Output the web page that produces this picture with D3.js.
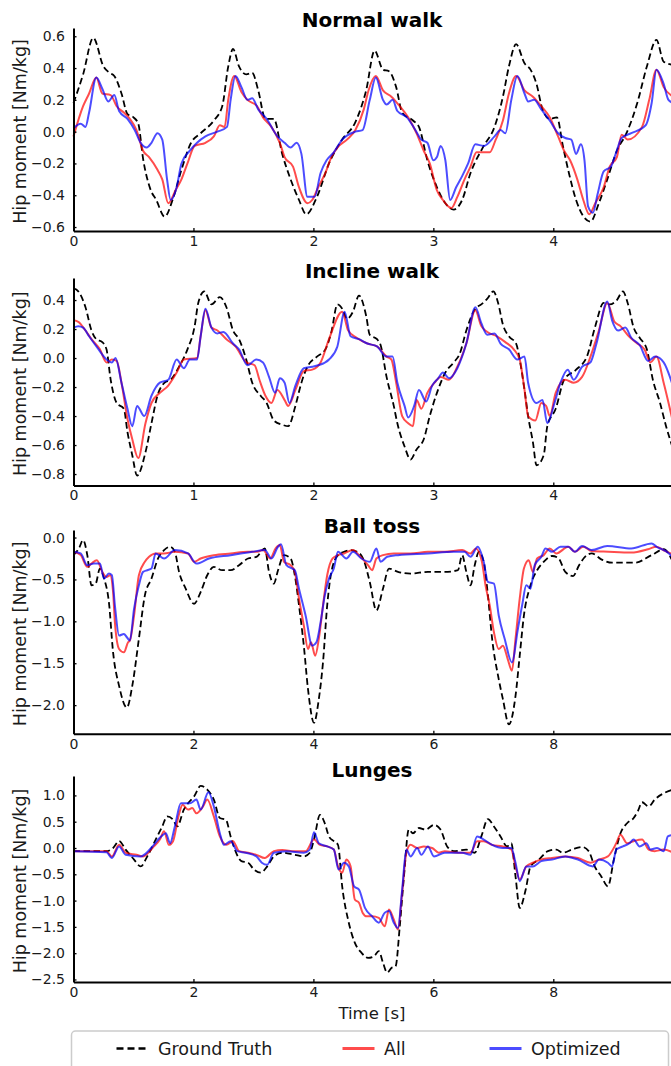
<!DOCTYPE html>
<html>
<head>
<meta charset="utf-8">
<script src="https://cdn.jsdelivr.net/npm/d3@7"></script>
<style>
  body { margin: 0; background: #fff; }
  svg { display: block; }
</style>
</head>
<body>
<div id="chart"></div>
<script>
// Hip moment traces, [time (s), moment (Nm/kg)]

const walkXTicks = [0, 1, 2, 3, 4];
const longXTicks = [0, 2, 4, 6, 8];
const normalYTicks = [-0.6, -0.4, -0.2, 0.0, 0.2, 0.4, 0.6];
const inclineYTicks = [-0.8, -0.6, -0.4, -0.2, 0.0, 0.2, 0.4];
const ballYTicks = [-2.0, -1.5, -1.0, -0.5, 0.0];
const lungeYTicks = [-2.5, -2.0, -1.5, -1.0, -0.5, 0.0, 0.5, 1.0];

const normalTruth = [[0,0.18],[0.08,0.36],[0.165,0.59],[0.25,0.41],[0.3,0.37],[0.34,0.35],[0.4,0.24],[0.45,0.11],[0.5,0.09],[0.54,0.05],[0.58,-0.17],[0.64,-0.36],[0.69,-0.43],[0.76,-0.535],[0.83,-0.42],[0.9,-0.24],[0.98,-0.07],[1.06,-0.01],[1.17,0.07],[1.24,0.16],[1.29,0.41],[1.33,0.52],[1.38,0.41],[1.44,0.36],[1.49,0.37],[1.54,0.26],[1.6,0.08],[1.67,0.08],[1.74,-0.14],[1.81,-0.3],[1.88,-0.43],[1.94,-0.52],[2.03,-0.41],[2.13,-0.2],[2.24,-0.05],[2.35,0.06],[2.44,0.26],[2.51,0.51],[2.58,0.39],[2.63,0.38],[2.69,0.28],[2.74,0.12],[2.83,0.07],[2.88,0.03],[2.95,-0.18],[3.03,-0.35],[3.1,-0.45],[3.17,-0.49],[3.24,-0.43],[3.31,-0.26],[3.42,-0.09],[3.51,0.03],[3.58,0.22],[3.63,0.41],[3.69,0.55],[3.76,0.43],[3.81,0.39],[3.86,0.3],[3.91,0.14],[3.97,0.08],[4.03,0.09],[4.08,-0.09],[4.13,-0.26],[4.19,-0.43],[4.31,-0.566],[4.38,-0.45],[4.45,-0.3],[4.53,-0.12],[4.61,-0.01],[4.7,0.18],[4.78,0.41],[4.86,0.577],[4.92,0.44],[5.0,0.42]];
const normalAll = [[0,-0.03],[0.08,0.16],[0.13,0.24],[0.19,0.34],[0.24,0.24],[0.31,0.23],[0.36,0.16],[0.42,0.12],[0.47,0.08],[0.525,0.01],[0.58,-0.12],[0.63,-0.16],[0.7,-0.24],[0.74,-0.3],[0.79,-0.45],[0.85,-0.37],[0.9,-0.3],[0.95,-0.2],[1.01,-0.09],[1.1,-0.07],[1.17,-0.03],[1.22,0.04],[1.26,0.03],[1.29,0.2],[1.34,0.35],[1.4,0.25],[1.45,0.2],[1.53,0.16],[1.58,0.09],[1.65,0.03],[1.72,-0.07],[1.76,-0.16],[1.83,-0.22],[1.88,-0.35],[1.95,-0.45],[1.99,-0.43],[2.04,-0.35],[2.1,-0.26],[2.15,-0.16],[2.2,-0.1],[2.28,-0.05],[2.35,0.01],[2.42,0.14],[2.46,0.26],[2.52,0.35],[2.58,0.26],[2.65,0.22],[2.72,0.16],[2.79,0.09],[2.86,-0.01],[2.92,-0.12],[2.97,-0.2],[3.03,-0.37],[3.08,-0.43],[3.15,-0.48],[3.2,-0.41],[3.26,-0.3],[3.31,-0.22],[3.36,-0.13],[3.47,-0.13],[3.52,-0.05],[3.58,0.07],[3.63,0.24],[3.69,0.35],[3.76,0.26],[3.83,0.22],[3.9,0.16],[3.97,0.09],[4.04,-0.03],[4.09,-0.12],[4.14,-0.18],[4.2,-0.3],[4.25,-0.43],[4.3,-0.52],[4.35,-0.45],[4.42,-0.35],[4.47,-0.22],[4.53,-0.16],[4.57,-0.02],[4.62,-0.05],[4.74,0.03],[4.8,0.2],[4.86,0.39],[4.92,0.28],[5.0,0.22]];
const normalOpt = [[0,0.02],[0.06,0.05],[0.1,0.03],[0.13,0.12],[0.19,0.34],[0.24,0.27],[0.29,0.19],[0.34,0.23],[0.38,0.13],[0.45,0.08],[0.51,0.01],[0.56,-0.07],[0.61,-0.1],[0.65,-0.07],[0.7,-0.01],[0.74,-0.05],[0.78,-0.3],[0.81,-0.43],[0.86,-0.35],[0.9,-0.2],[0.97,-0.12],[1.03,-0.07],[1.1,-0.03],[1.2,0.0],[1.28,0.03],[1.31,0.2],[1.35,0.35],[1.4,0.28],[1.45,0.2],[1.49,0.21],[1.54,0.14],[1.61,0.08],[1.7,-0.03],[1.76,-0.07],[1.81,-0.1],[1.86,-0.07],[1.9,-0.14],[1.95,-0.41],[2.01,-0.41],[2.06,-0.26],[2.11,-0.18],[2.17,-0.13],[2.24,-0.05],[2.35,0.0],[2.41,0.01],[2.47,0.2],[2.52,0.34],[2.58,0.2],[2.61,0.17],[2.66,0.2],[2.7,0.13],[2.78,0.09],[2.85,0.01],[2.9,-0.05],[2.95,-0.07],[3.0,-0.18],[3.03,-0.16],[3.06,-0.09],[3.1,-0.18],[3.14,-0.43],[3.19,-0.35],[3.24,-0.28],[3.29,-0.2],[3.35,-0.08],[3.42,-0.09],[3.51,-0.03],[3.56,0.01],[3.6,-0.01],[3.65,0.2],[3.7,0.35],[3.76,0.24],[3.79,0.19],[3.84,0.2],[3.9,0.14],[3.97,0.07],[4.04,-0.01],[4.1,-0.04],[4.15,-0.05],[4.19,-0.14],[4.23,-0.08],[4.26,-0.18],[4.29,-0.47],[4.33,-0.51],[4.37,-0.39],[4.42,-0.25],[4.48,-0.22],[4.52,-0.14],[4.57,-0.04],[4.65,-0.01],[4.77,0.04],[4.82,0.18],[4.86,0.39],[4.92,0.3],[4.96,0.2],[5.0,0.18]];

const inclineTruth = [[0,0.48],[0.04,0.46],[0.1,0.35],[0.15,0.19],[0.19,0.13],[0.24,0.11],[0.275,0.06],[0.31,-0.15],[0.36,-0.31],[0.42,-0.35],[0.45,-0.51],[0.49,-0.67],[0.53,-0.81],[0.6,-0.65],[0.65,-0.45],[0.7,-0.26],[0.76,-0.17],[0.81,-0.15],[0.88,-0.06],[0.95,0.06],[1.01,0.22],[1.04,0.38],[1.09,0.46],[1.15,0.37],[1.22,0.42],[1.275,0.35],[1.33,0.19],[1.38,0.13],[1.44,-0.01],[1.49,-0.17],[1.56,-0.26],[1.61,-0.31],[1.67,-0.43],[1.74,-0.46],[1.79,-0.47],[1.85,-0.33],[1.9,-0.17],[1.95,-0.06],[2.03,0.01],[2.1,0.06],[2.15,0.18],[2.2,0.37],[2.24,0.34],[2.28,0.27],[2.33,0.32],[2.38,0.43],[2.44,0.29],[2.47,0.16],[2.53,0.13],[2.56,0.09],[2.61,-0.13],[2.67,-0.33],[2.7,-0.45],[2.76,-0.61],[2.81,-0.7],[2.86,-0.63],[2.92,-0.56],[2.97,-0.4],[3.03,-0.24],[3.1,-0.1],[3.17,-0.03],[3.22,0.03],[3.275,0.19],[3.35,0.34],[3.4,0.37],[3.45,0.41],[3.5,0.46],[3.54,0.38],[3.58,0.23],[3.63,0.15],[3.69,0.1],[3.72,-0.01],[3.76,-0.22],[3.79,-0.4],[3.83,-0.58],[3.86,-0.74],[3.92,-0.67],[3.95,-0.47],[4.02,-0.35],[4.09,-0.15],[4.19,-0.08],[4.28,0.01],[4.35,0.22],[4.42,0.38],[4.47,0.37],[4.53,0.4],[4.58,0.46],[4.62,0.38],[4.67,0.21],[4.72,0.14],[4.78,0.06],[4.83,-0.15],[4.89,-0.31],[4.94,-0.47],[5.0,-0.63]];
const inclineAll = [[0,0.26],[0.04,0.25],[0.1,0.19],[0.15,0.13],[0.22,0.06],[0.275,-0.03],[0.32,-0.01],[0.36,-0.02],[0.4,-0.17],[0.45,-0.42],[0.49,-0.56],[0.54,-0.69],[0.6,-0.45],[0.65,-0.31],[0.72,-0.24],[0.79,-0.19],[0.86,-0.1],[0.92,-0.01],[1.03,0.0],[1.06,0.15],[1.1,0.33],[1.15,0.21],[1.2,0.19],[1.275,0.13],[1.35,0.08],[1.44,-0.03],[1.51,-0.05],[1.55,-0.15],[1.6,-0.26],[1.65,-0.31],[1.7,-0.22],[1.76,-0.29],[1.79,-0.33],[1.85,-0.22],[1.92,-0.09],[1.99,-0.08],[2.06,-0.03],[2.13,0.13],[2.24,0.32],[2.29,0.19],[2.36,0.14],[2.45,0.1],[2.53,0.08],[2.61,0.01],[2.65,-0.01],[2.69,-0.17],[2.74,-0.4],[2.79,-0.45],[2.83,-0.47],[2.86,-0.29],[2.9,-0.35],[2.95,-0.24],[3.01,-0.17],[3.06,-0.13],[3.13,-0.15],[3.2,-0.06],[3.275,0.1],[3.35,0.33],[3.4,0.22],[3.45,0.18],[3.53,0.15],[3.6,0.11],[3.67,0.06],[3.72,-0.01],[3.76,-0.22],[3.79,-0.4],[3.85,-0.43],[3.9,-0.31],[3.94,-0.33],[3.97,-0.4],[4.02,-0.24],[4.1,-0.15],[4.17,-0.17],[4.24,-0.13],[4.31,0.01],[4.38,0.19],[4.45,0.38],[4.51,0.25],[4.56,0.22],[4.63,0.15],[4.7,0.1],[4.76,0.06],[4.81,-0.03],[4.86,0.01],[4.92,-0.17],[5.0,-0.45]];
const inclineOpt = [[0,0.21],[0.04,0.22],[0.08,0.21],[0.13,0.15],[0.2,0.07],[0.275,-0.01],[0.32,-0.03],[0.35,0.0],[0.4,-0.17],[0.45,-0.35],[0.49,-0.47],[0.53,-0.33],[0.59,-0.4],[0.65,-0.26],[0.72,-0.17],[0.79,-0.15],[0.86,-0.01],[0.92,-0.07],[0.97,-0.01],[1.03,-0.01],[1.06,0.15],[1.1,0.34],[1.15,0.21],[1.2,0.17],[1.25,0.18],[1.33,0.1],[1.38,0.06],[1.45,-0.05],[1.525,-0.01],[1.58,-0.03],[1.63,-0.13],[1.68,-0.24],[1.72,-0.14],[1.76,-0.17],[1.8,-0.31],[1.85,-0.19],[1.92,-0.07],[1.99,-0.06],[2.04,-0.05],[2.13,-0.01],[2.2,0.08],[2.26,0.32],[2.31,0.15],[2.38,0.13],[2.45,0.1],[2.53,0.08],[2.61,0.01],[2.66,0.01],[2.7,-0.17],[2.76,-0.33],[2.79,-0.41],[2.84,-0.33],[2.88,-0.22],[2.94,-0.3],[2.99,-0.19],[3.04,-0.14],[3.08,-0.1],[3.13,-0.14],[3.2,-0.07],[3.275,0.1],[3.35,0.35],[3.4,0.24],[3.45,0.16],[3.51,0.17],[3.56,0.1],[3.63,0.06],[3.7,-0.01],[3.76,0.01],[3.79,-0.17],[3.86,-0.31],[3.91,-0.29],[3.95,-0.45],[4.01,-0.31],[4.06,-0.17],[4.12,-0.08],[4.17,-0.15],[4.24,-0.06],[4.31,-0.03],[4.36,0.1],[4.45,0.39],[4.49,0.26],[4.54,0.19],[4.6,0.21],[4.65,0.14],[4.72,0.09],[4.79,-0.02],[4.85,0.01],[4.92,-0.03],[5.0,-0.2]];

const ballTruth = [[0,-0.21],[0.09,-0.13],[0.16,-0.03],[0.23,-0.21],[0.3,-0.57],[0.37,-0.55],[0.44,-0.37],[0.51,-0.49],[0.59,-0.77],[0.66,-1.37],[0.76,-1.77],[0.89,-2.03],[0.98,-1.77],[1.09,-1.21],[1.19,-0.69],[1.3,-0.49],[1.41,-0.25],[1.51,-0.15],[1.61,-0.11],[1.69,-0.17],[1.76,-0.41],[1.87,-0.61],[2.01,-0.79],[2.12,-0.65],[2.23,-0.45],[2.34,-0.35],[2.48,-0.39],[2.62,-0.39],[2.76,-0.33],[2.91,-0.25],[3.05,-0.23],[3.19,-0.13],[3.26,-0.41],[3.34,-0.55],[3.41,-0.39],[3.51,-0.21],[3.62,-0.25],[3.69,-0.45],[3.76,-0.81],[3.84,-1.29],[3.91,-1.81],[4.01,-2.21],[4.09,-1.93],[4.16,-1.49],[4.23,-0.81],[4.3,-0.41],[4.41,-0.21],[4.51,-0.17],[4.62,-0.15],[4.73,-0.17],[4.84,-0.27],[4.94,-0.53],[5.05,-0.87],[5.16,-0.61],[5.26,-0.37],[5.41,-0.41],[5.62,-0.43],[5.91,-0.41],[6.19,-0.41],[6.41,-0.39],[6.48,-0.21],[6.55,-0.41],[6.62,-0.57],[6.69,-0.33],[6.76,-0.17],[6.84,-0.29],[6.91,-0.69],[6.98,-1.21],[7.09,-1.69],[7.16,-1.93],[7.26,-2.23],[7.37,-1.89],[7.44,-1.41],[7.51,-0.93],[7.62,-0.57],[7.73,-0.39],[7.84,-0.29],[7.98,-0.22],[8.09,-0.25],[8.2,-0.41],[8.33,-0.46],[8.43,-0.33],[8.56,-0.21],[8.64,-0.19],[8.8,-0.26],[8.98,-0.3],[9.36,-0.3],[9.64,-0.21],[9.84,-0.14],[10,-0.3]];
const ballAll = [[0,-0.17],[0.12,-0.21],[0.23,-0.35],[0.3,-0.31],[0.39,-0.27],[0.48,-0.41],[0.55,-0.47],[0.61,-0.45],[0.66,-0.65],[0.69,-1.01],[0.76,-1.33],[0.84,-1.37],[0.91,-1.25],[0.94,-1.23],[1.01,-0.93],[1.09,-0.45],[1.19,-0.29],[1.26,-0.23],[1.37,-0.19],[1.51,-0.19],[1.69,-0.17],[1.91,-0.19],[2.01,-0.29],[2.12,-0.25],[2.34,-0.21],[2.62,-0.19],[2.91,-0.17],[3.05,-0.17],[3.16,-0.15],[3.28,-0.25],[3.37,-0.13],[3.44,-0.09],[3.51,-0.29],[3.62,-0.33],[3.69,-0.41],[3.76,-0.73],[3.84,-1.05],[3.91,-1.33],[3.96,-1.25],[4.03,-1.41],[4.09,-1.21],[4.16,-0.81],[4.23,-0.45],[4.32,-0.25],[4.41,-0.21],[4.51,-0.19],[4.66,-0.15],[4.76,-0.21],[4.91,-0.33],[4.98,-0.39],[5.05,-0.25],[5.16,-0.21],[5.34,-0.19],[5.62,-0.19],[5.91,-0.17],[6.19,-0.17],[6.48,-0.15],[6.62,-0.19],[6.71,-0.13],[6.81,-0.29],[6.87,-0.57],[6.94,-0.81],[7.01,-1.13],[7.09,-1.33],[7.16,-1.29],[7.24,-1.45],[7.31,-1.59],[7.37,-1.21],[7.44,-0.73],[7.51,-0.37],[7.59,-0.27],[7.66,-0.41],[7.73,-0.25],[7.84,-0.21],[7.94,-0.13],[8.05,-0.19],[8.25,-0.11],[8.36,-0.17],[8.5,-0.11],[8.64,-0.16],[8.92,-0.17],[9.3,-0.18],[9.58,-0.14],[9.72,-0.11],[9.86,-0.16],[10,-0.2]];
const ballOpt = [[0,-0.17],[0.12,-0.19],[0.23,-0.33],[0.34,-0.31],[0.44,-0.31],[0.51,-0.49],[0.59,-0.43],[0.64,-0.45],[0.69,-0.81],[0.76,-1.17],[0.84,-1.15],[0.89,-1.19],[0.94,-1.23],[1.01,-0.85],[1.09,-0.57],[1.16,-0.41],[1.23,-0.39],[1.3,-0.37],[1.37,-0.19],[1.51,-0.25],[1.69,-0.15],[1.91,-0.19],[2.05,-0.31],[2.26,-0.25],[2.62,-0.21],[2.98,-0.17],[3.19,-0.15],[3.3,-0.25],[3.41,-0.11],[3.46,-0.08],[3.55,-0.33],[3.69,-0.39],[3.76,-0.61],[3.87,-0.93],[3.98,-1.29],[4.05,-1.25],[4.12,-1.01],[4.19,-0.69],[4.26,-0.49],[4.34,-0.37],[4.41,-0.17],[4.55,-0.25],[4.66,-0.17],[4.8,-0.25],[4.94,-0.29],[5.05,-0.13],[5.12,-0.29],[5.23,-0.23],[5.41,-0.21],[5.91,-0.19],[6.34,-0.17],[6.52,-0.17],[6.62,-0.23],[6.74,-0.11],[6.84,-0.29],[6.91,-0.53],[7.01,-0.55],[7.09,-0.93],[7.19,-1.21],[7.31,-1.49],[7.41,-1.09],[7.48,-0.81],[7.55,-0.57],[7.62,-0.61],[7.69,-0.33],[7.8,-0.23],[7.87,-0.13],[7.98,-0.17],[8.12,-0.11],[8.25,-0.11],[8.36,-0.17],[8.48,-0.1],[8.64,-0.15],[8.9,-0.1],[9.3,-0.13],[9.64,-0.07],[9.72,-0.11],[9.93,-0.19],[10,-0.25]];

const lungeTruth = [[0,-0.06],[0.55,-0.06],[0.66,0.0],[0.76,0.13],[0.87,-0.03],[1.01,-0.22],[1.12,-0.35],[1.23,-0.16],[1.37,0.16],[1.48,0.41],[1.56,0.6],[1.66,0.54],[1.73,0.41],[1.84,0.73],[1.91,0.85],[2.01,0.98],[2.12,1.18],[2.23,1.11],[2.34,0.92],[2.44,0.57],[2.54,0.54],[2.62,0.22],[2.69,-0.03],[2.8,-0.25],[2.91,-0.28],[3.01,-0.41],[3.12,-0.47],[3.23,-0.35],[3.34,-0.16],[3.48,-0.09],[3.69,-0.13],[3.84,-0.16],[3.94,-0.09],[4.01,0.16],[4.11,0.63],[4.19,0.47],[4.26,0.22],[4.34,0.13],[4.41,0.06],[4.48,-0.73],[4.59,-1.42],[4.69,-1.8],[4.8,-1.99],[4.91,-2.09],[5.01,-2.06],[5.09,-1.96],[5.16,-2.18],[5.23,-2.37],[5.3,-2.28],[5.37,-2.25],[5.44,-1.49],[5.51,-0.54],[5.59,0.35],[5.66,0.28],[5.76,0.38],[5.87,0.35],[6.01,0.44],[6.12,0.35],[6.23,0.03],[6.34,-0.06],[6.55,-0.03],[6.69,-0.09],[6.8,0.22],[6.91,0.55],[7.01,0.41],[7.12,0.22],[7.23,0.03],[7.3,0.09],[7.37,-0.54],[7.44,-1.14],[7.54,-0.79],[7.62,-0.35],[7.76,-0.22],[7.91,-0.06],[8.05,-0.03],[8.16,-0.09],[8.31,-0.03],[8.48,0.02],[8.59,-0.06],[8.69,-0.35],[8.8,-0.54],[8.91,-0.73],[9.01,-0.22],[9.12,0.28],[9.23,0.47],[9.34,0.57],[9.41,0.7],[9.48,0.87],[9.59,0.79],[9.69,0.92],[9.84,1.04],[10,1.11]];
const lungeAll = [[0,-0.06],[0.55,-0.06],[0.64,-0.16],[0.76,0.06],[0.87,-0.09],[1.05,-0.13],[1.16,-0.16],[1.34,0.03],[1.44,0.16],[1.51,0.32],[1.59,0.06],[1.66,0.13],[1.75,0.6],[1.82,0.82],[1.91,0.73],[1.98,0.76],[2.05,0.66],[2.16,0.79],[2.23,0.92],[2.34,0.6],[2.44,0.22],[2.55,0.06],[2.66,0.13],[2.76,-0.06],[2.91,-0.09],[3.05,-0.13],[3.19,-0.19],[3.34,-0.06],[3.48,-0.04],[3.69,-0.06],[3.87,-0.06],[4.01,0.16],[4.11,0.06],[4.23,0.03],[4.34,-0.03],[4.41,-0.35],[4.48,-0.47],[4.55,-0.22],[4.62,-0.35],[4.69,-0.98],[4.76,-1.04],[4.82,-1.23],[4.89,-1.3],[4.98,-1.3],[5.09,-1.33],[5.19,-1.49],[5.26,-1.17],[5.34,-1.36],[5.41,-1.55],[5.48,-0.85],[5.55,-0.09],[5.62,0.06],[5.73,0.0],[5.84,0.03],[5.98,0.0],[6.09,-0.09],[6.19,-0.06],[6.41,-0.09],[6.62,-0.09],[6.73,0.13],[6.84,0.13],[6.98,0.06],[7.16,0.03],[7.3,-0.03],[7.37,-0.35],[7.44,-0.6],[7.55,-0.35],[7.66,-0.28],[7.8,-0.22],[7.98,-0.19],[8.2,-0.16],[8.41,-0.19],[8.62,-0.28],[8.76,-0.22],[8.91,-0.16],[9.05,0.09],[9.12,0.25],[9.23,0.09],[9.34,0.13],[9.48,0.16],[9.59,-0.03],[9.69,-0.06],[9.84,-0.03],[10,-0.09]];
const lungeOpt = [[0,-0.06],[0.55,-0.08],[0.64,-0.19],[0.76,0.03],[0.87,-0.13],[1.12,-0.16],[1.34,0.06],[1.46,0.22],[1.54,0.28],[1.61,0.09],[1.69,0.41],[1.79,0.85],[1.94,0.85],[2.05,0.92],[2.12,0.73],[2.25,1.06],[2.34,0.79],[2.44,0.28],[2.51,0.06],[2.62,0.13],[2.73,-0.06],[2.87,-0.09],[3.05,-0.16],[3.14,-0.28],[3.23,-0.32],[3.34,-0.09],[3.55,-0.06],[3.84,-0.09],[3.94,-0.03],[4.01,0.3],[4.09,0.09],[4.23,0.03],[4.34,-0.03],[4.42,-0.41],[4.51,-0.28],[4.59,-0.35],[4.68,-0.73],[4.76,-0.79],[4.86,-1.14],[4.98,-1.3],[5.09,-1.42],[5.19,-1.23],[5.26,-1.2],[5.34,-1.42],[5.41,-1.52],[5.48,-0.79],[5.55,-0.03],[5.62,-0.16],[5.73,0.0],[5.8,-0.13],[5.91,0.03],[6.01,-0.16],[6.19,-0.09],[6.48,-0.09],[6.62,-0.13],[6.73,0.22],[6.84,0.16],[6.98,0.06],[7.16,0.0],[7.3,0.0],[7.37,-0.28],[7.44,-0.63],[7.55,-0.35],[7.66,-0.35],[7.8,-0.25],[7.98,-0.22],[8.2,-0.16],[8.41,-0.22],[8.66,-0.35],[8.76,-0.22],[8.91,-0.28],[8.98,-0.35],[9.05,-0.03],[9.16,0.03],[9.27,0.09],[9.34,0.16],[9.44,0.03],[9.55,0.09],[9.62,-0.03],[9.73,0.0],[9.84,-0.06],[9.91,0.22],[10,0.25]];

const seriesNames = ["Ground Truth", "All", "Optimized"];

// ---- layout ----
const WIDTH = 671, HEIGHT = 1066;
const FONT = "'DejaVu Sans', Verdana, sans-serif";
const PLOT_LEFT = 73.5;
const PLOT_WIDTH = 599.75; // the figure is cut at the right edge

const STYLE = {
  truth: { color: "#000", width: 1.8, dash: "6.5,3.5", opacity: 1 },
  all: { color: "#ff0000", width: 2, dash: null, opacity: 0.7 },
  opt: { color: "#0000ff", width: 2, dash: null, opacity: 0.7 },
};

const panels = [
  { title: "Normal walk", truth: normalTruth, all: normalAll, opt: normalOpt,
    xMax: 5, xTicks: walkXTicks, yTicks: normalYTicks,
    yDomain: [-0.625, 0.652], top: 28, bottom: 231, titleY: 20 },
  { title: "Incline walk", truth: inclineTruth, all: inclineAll, opt: inclineOpt,
    xMax: 5, xTicks: walkXTicks, yTicks: inclineYTicks,
    yDomain: [-0.879, 0.552], top: 278, bottom: 485.5, titleY: 271 },
  { title: "Ball toss", truth: ballTruth, all: ballAll, opt: ballOpt,
    xMax: 10, xTicks: longXTicks, yTicks: ballYTicks,
    yDomain: [-2.341, 0.09], top: 530, bottom: 733.7, titleY: 526 },
  { title: "Lunges", truth: lungeTruth, all: lungeAll, opt: lungeOpt,
    xMax: 10, xTicks: longXTicks, yTicks: lungeYTicks,
    yDomain: [-2.548, 1.369], top: 776, bottom: 982, titleY: 770 },
];

const svg = d3
  .select("#chart")
  .append("svg")
  .attr("width", WIDTH)
  .attr("height", HEIGHT)
  .attr("font-family", FONT);

function drawPanel(p) {
  const x = d3
    .scaleLinear()
    .domain([0, p.xMax])
    .range([PLOT_LEFT, PLOT_LEFT + PLOT_WIDTH]);
  const y = d3.scaleLinear().domain(p.yDomain).range([p.bottom, p.top]);

  const g = svg.append("g").attr("class", "panel");

  const line = d3
    .line()
    .x((d) => x(d[0]))
    .y((d) => y(d[1]))
    .curve(d3.curveMonotoneX);

  // Ground truth first, then the two estimates on top
  for (const key of ["truth", "all", "opt"]) {
    const s = STYLE[key];
    g.append("path")
      .datum(p[key])
      .attr("d", line)
      .attr("fill", "none")
      .attr("stroke", s.color)
      .attr("stroke-width", s.width)
      .attr("stroke-opacity", s.opacity)
      .attr("stroke-linejoin", "round")
      .attr("stroke-dasharray", s.dash);
  }

  // Axes - ticks point into the plot
  const gx = g
    .append("g")
    .attr("transform", `translate(0,${p.bottom})`)
    .call(
      d3
        .axisBottom(x)
        .tickValues(p.xTicks)
        .tickSizeInner(-3)
        .tickSizeOuter(0)
        .tickPadding(5)
        .tickFormat(d3.format("d")),
    );

  const gy = g
    .append("g")
    .attr("transform", `translate(${PLOT_LEFT},0)`)
    .call(
      d3
        .axisLeft(y)
        .tickValues(p.yTicks)
        .tickSizeInner(-3)
        .tickSizeOuter(0)
        .tickPadding(8.5)
        .tickFormat(d3.format(".1f")),
    );

  for (const a of [gx, gy]) {
    a.attr("font-family", FONT).attr("font-size", 14);
    a.select(".domain").attr("stroke", "#000").attr("stroke-width", 2);
    a.selectAll(".tick line").attr("stroke", "#000").attr("stroke-width", 1.3);
    a.selectAll(".tick text").attr("fill", "#1a1a1a");
  }

  // Title
  g.append("text")
    .attr("x", 372)
    .attr("y", p.titleY)
    .attr("text-anchor", "middle")
    .attr("dominant-baseline", "central")
    .attr("font-size", 20)
    .attr("font-weight", "bold")
    .text(p.title);

  // Y label
  const cy = (p.top + p.bottom) / 2 + 2;
  g.append("text")
    .attr("transform", `translate(19.5,${cy}) rotate(-90)`)
    .attr("text-anchor", "middle")
    .attr("dominant-baseline", "central")
    .attr("font-size", 17.5)
    .attr("fill", "#1a1a1a")
    .text("Hip moment [Nm/kg]");
}

panels.forEach(drawPanel);

// X label under the last panel
svg
  .append("text")
  .attr("x", 372)
  .attr("y", 1013)
  .attr("text-anchor", "middle")
  .attr("dominant-baseline", "central")
  .attr("font-size", 16.5)
  .attr("fill", "#1a1a1a")
  .text("Time [s]");

// Legend (box runs off the bottom of the figure)
const legend = svg.append("g").attr("class", "legend");
legend
  .append("rect")
  .attr("x", 71.5)
  .attr("y", 1031)
  .attr("width", 597)
  .attr("height", 60)
  .attr("rx", 4)
  .attr("fill", "#fff")
  .attr("stroke", "#cccccc")
  .attr("stroke-width", 1.5);

const legendItems = [
  { name: seriesNames[0], style: STYLE.truth, x0: 116.5 },
  { name: seriesNames[1], style: STYLE.all, x0: 342.5 },
  { name: seriesNames[2], style: STYLE.opt, x0: 489.5 },
];
const LEGEND_Y = 1048.5;

legendItems.forEach((d) => {
  legend
    .append("line")
    .attr("x1", d.x0)
    .attr("x2", d.x0 + 32)
    .attr("y1", LEGEND_Y)
    .attr("y2", LEGEND_Y)
    .attr("stroke", d.style.color)
    .attr("stroke-opacity", d.style.opacity)
    .attr("stroke-width", d.style.width + 0.8)
    .attr("stroke-dasharray", d.style.dash ? "7,4" : null);
  legend
    .append("text")
    .attr("x", d.x0 + 41.5)
    .attr("y", LEGEND_Y)
    .attr("dominant-baseline", "central")
    .attr("font-size", 17.5)
    .attr("fill", "#1a1a1a")
    .text(d.name);
});
</script>
</body>
</html>
